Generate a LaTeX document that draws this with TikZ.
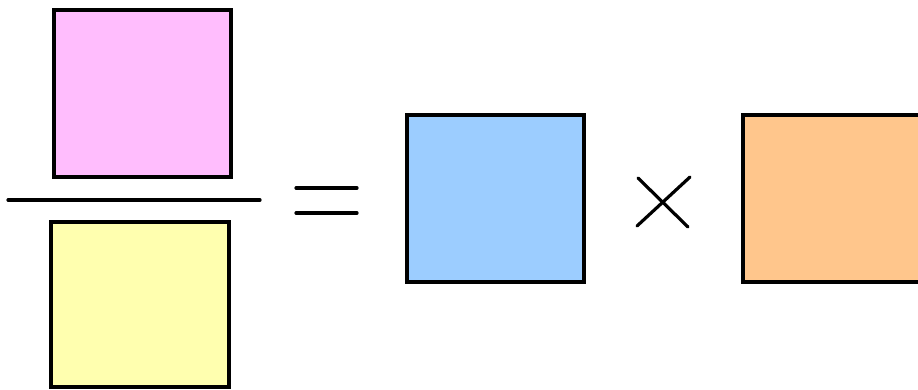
\documentclass[tikz,border=0pt]{standalone}
\usepackage{tikz}
\definecolor{pinkfill}{HTML}{FFBDFD}
\definecolor{yellowfill}{HTML}{FFFFAF}
\definecolor{bluefill}{HTML}{9CCDFF}
\definecolor{orangefill}{HTML}{FFC68C}
\begin{document}
\begin{tikzpicture}[line cap=round,
  sq/.style={draw=black,line width=0.04cm,inner sep=0pt,minimum width=1.77cm,minimum height=1.67cm},
  sign/.style={line width=0.032cm}]
\useasboundingbox (0,0) rectangle (9.18,3.89);
\clip (0,0) rectangle (9.18,3.89);
% fraction
\node[sq,fill=pinkfill] (top) at (1.425,2.955) {};
\node[sq,fill=yellowfill,minimum width=1.78cm,minimum height=1.65cm] (bottom) at (1.40,0.845) {};
\draw[sign] (0.08,1.89) -- (2.60,1.89);
% equals
\draw[sign] (2.96,2.01) -- (3.57,2.01);
\draw[sign] (2.96,1.76) -- (3.57,1.76);
\node[sq,fill=bluefill] (left) at (4.955,1.91) {};
% times
\draw[sign] (6.38,2.11) -- (6.88,1.62);
\draw[sign] (6.90,2.12) -- (6.37,1.63);
\node[sq,fill=orangefill,minimum width=1.90cm] (right) at (8.38,1.91) {};
\end{tikzpicture}
\end{document}
